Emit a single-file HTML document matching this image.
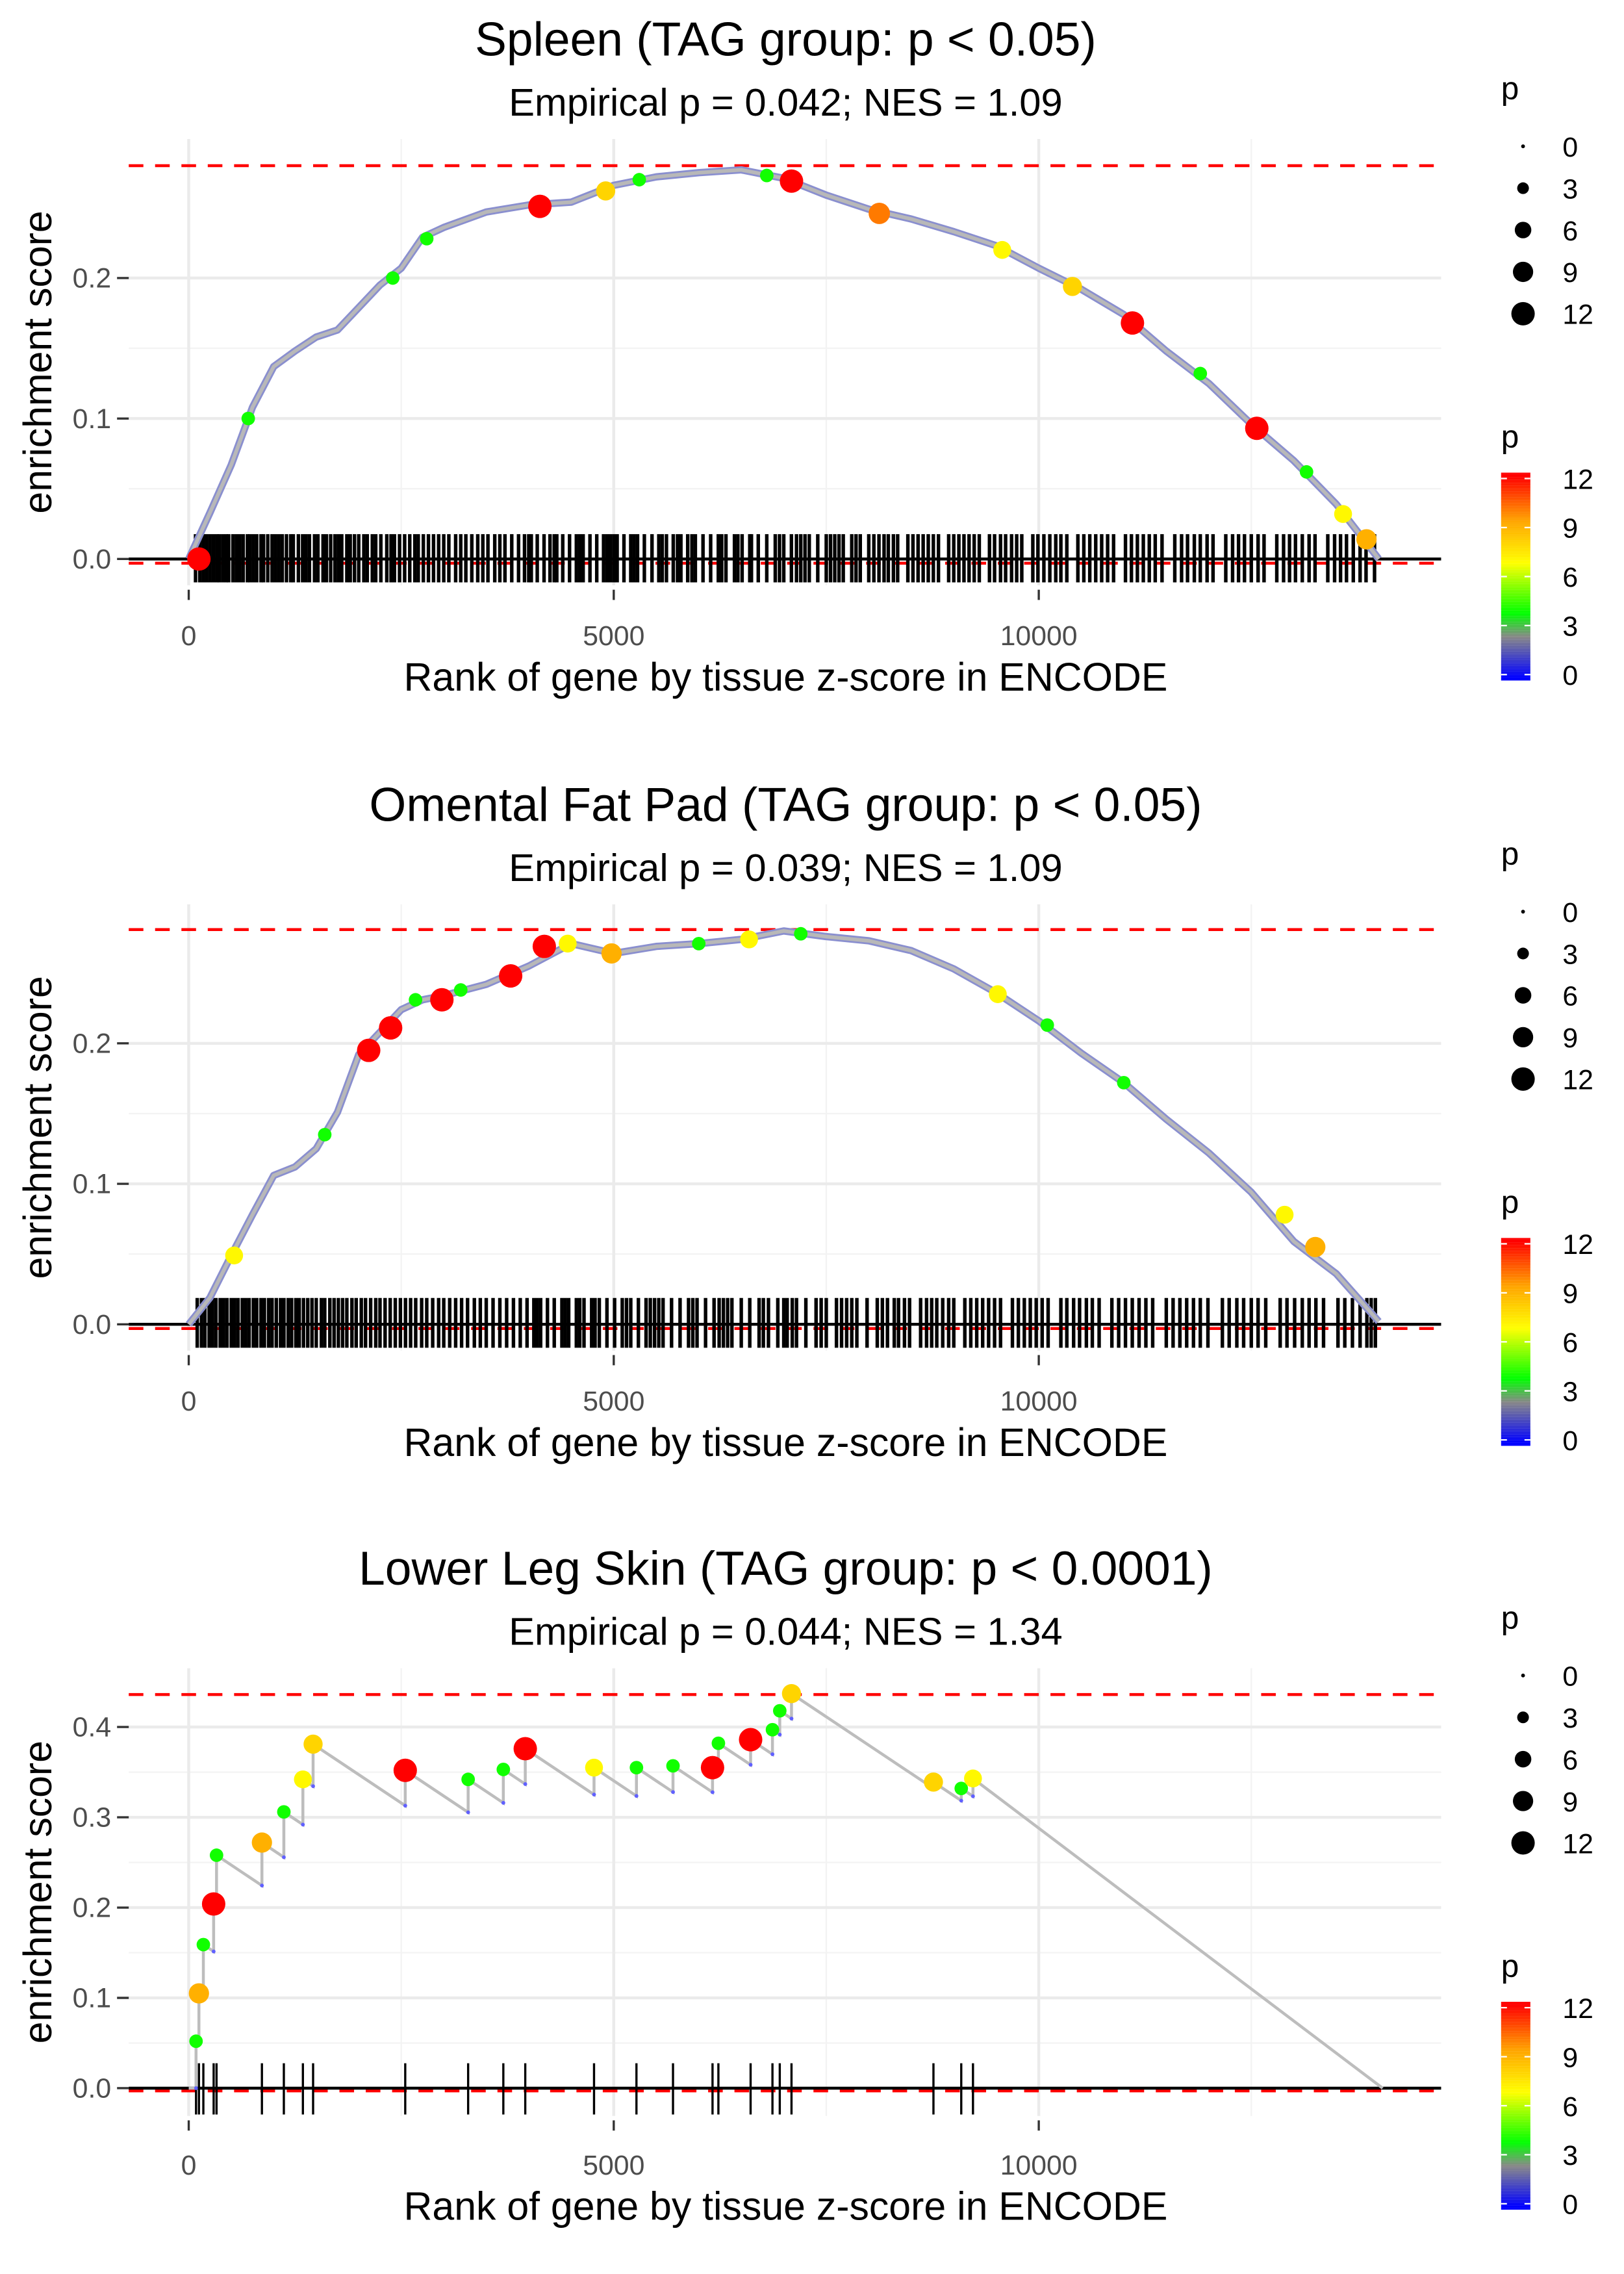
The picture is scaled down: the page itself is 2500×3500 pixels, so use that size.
<!DOCTYPE html>
<html><head><meta charset="utf-8">
<style>
html,body{margin:0;padding:0;background:#fff;}
svg{display:block;font-family:"Liberation Sans",sans-serif;}
</style></head>
<body>
<svg id="chart" width="2500" height="3500" viewBox="0 0 1110 1554" xmlns="http://www.w3.org/2000/svg"></svg>
<script>
// ---------- DATA ----------
const panelTitles = ["Spleen (TAG group: p < 0.05)", "Omental Fat Pad (TAG group: p < 0.05)", "Lower Leg Skin (TAG group: p < 0.0001)"];
const panelSubtitles = ["Empirical p = 0.042; NES = 1.09", "Empirical p = 0.039; NES = 1.09", "Empirical p = 0.044; NES = 1.34"];
const xTicks = [0, 5000, 10000];
const yTicksA = [0, 0.1, 0.2];
const yTicksC = [0, 0.1, 0.2, 0.3, 0.4];
const maxES = [0.280, 0.281, 0.436];
const minES = [-0.003, -0.003, -0.003];
const legendSizes = [0, 3, 6, 9, 12];
const legendColors = [12, 9, 6, 3, 0];

// running curve (rank, ES) for panel 1 and 2
const curveRank = [0,250,500,750,1000,1250,1500,1750,2000,2250,2500,2750,3000,3500,4000,4500,5000,5500,6000,6500,7000,7500,8000,8500,9000,9500,10000,10500,11000,11500,12000,12500,13000,13500,14000];
const curve1ES = [0,0.033,0.067,0.108,0.137,0.148,0.158,0.163,0.179,0.195,0.207,0.229,0.236,0.247,0.252,0.254,0.266,0.272,0.275,0.277,0.271,0.259,0.249,0.242,0.233,0.223,0.207,0.192,0.174,0.148,0.125,0.096,0.070,0.039,0.0];
const curve2ES = [0,0.019,0.049,0.078,0.106,0.112,0.125,0.151,0.192,0.208,0.224,0.231,0.234,0.242,0.255,0.271,0.264,0.269,0.271,0.274,0.280,0.276,0.273,0.266,0.253,0.236,0.216,0.193,0.172,0.146,0.122,0.094,0.059,0.036,0.002];

// highlighted genes
const pts1Rank = [120,4131,4905,7091,8124,9570,10396,11102,12565,13580,13855,700,2400,2800,5300,6800,11900,13150];
const pts1ES   = [0.0,0.251,0.262,0.269,0.246,0.220,0.194,0.168,0.093,0.032,0.014,0.100,0.200,0.228,0.270,0.273,0.132,0.062];
const pts1P    = [12,12,8,12,10,7,8,12,12,7,9,4,4,4,4,4,4,4];
const pts2Rank = [534,2117,2375,2668,2978,3787,4183,4458,4974,6592,9518,12892,13253,1600,3200,6000,7200,10100,11000];
const pts2ES   = [0.049,0.195,0.211,0.231,0.231,0.248,0.269,0.271,0.264,0.274,0.235,0.078,0.055,0.135,0.238,0.271,0.278,0.213,0.172];
const pts2P    = [7,12,12,4,12,12,12,7,9,7,7,7,9,4,4,4,4,4,4];
const pts3Rank = [86,120,172,293,327,861,1119,1343,1463,2547,3287,3701,3959,4768,5267,5697,6162,6231,6610,6867,6953,7091,8761,9088,9226];
const pts3ES   = [0.052,0.105,0.159,0.204,0.258,0.272,0.306,0.342,0.381,0.352,0.342,0.353,0.376,0.355,0.355,0.357,0.355,0.382,0.386,0.397,0.418,0.437,0.339,0.332,0.343];
const pts3P    = [4,9,4,12,4,9,4,7,8,12,4,4,12,7,4,4,12,4,12,4,4,8,8,4,7];
const endRank3 = 14045;

// rug (gene set member ranks)
const rug1 = [80,130,170,210,250,290,330,360,400,440,470,520,560,600,640,690,720,760,800,850,880,930,980,1020,1060,1100,1150,1200,1230,1290,1340,1380,1420,1480,1520,1580,1620,1670,1720,1760,1800,1860,1900,1950,2000,2060,2100,2160,2200,2260,2330,2380,2420,2480,2540,2600,2660,2700,2760,2820,2880,2940,3000,3060,3140,3200,3260,3330,3400,3460,3520,3600,3660,3720,3800,3880,3950,4030,4100,4180,4250,4330,4400,4480,4560,4640,4720,4800,4880,4960,5040,5120,5200,5280,5360,5450,5530,5620,5700,5790,5870,5960,6050,6140,6230,6320,6420,6510,6600,6700,6800,6900,7000,7090,7200,7300,7400,7500,7600,7700,7800,7900,8000,8120,8230,8340,8460,8580,8700,8820,8940,9060,9180,9300,9420,9550,9680,9800,9930,10060,10200,10330,10460,10600,10740,10880,11020,11160,11300,11450,11600,11750,11900,12050,12200,12350,12500,12650,12800,12950,13100,13250,13400,13550,13700,13850,13950,
  4000,4300,4600,4920,5240,5570,5920,6270,6620,6950,7250,7550,7850,8060,8290,8520,8760,9000,9240,9480,9740,9990,10260,10530,10810,11090,11370,11680,11980,12280,12580,12880,13180,13480,13780,5000,5750,6460,7150,7650,8180,8640,9120,9610,10130,10670,11230,11830,12420,13020,13620];
const rug2 = [100,150,190,240,280,320,370,410,450,500,540,580,630,670,710,760,800,850,890,940,980,1030,1080,1120,1170,1210,1260,1300,1350,1400,1450,1500,1560,1600,1660,1710,1760,1810,1860,1920,1970,2030,2080,2140,2200,2250,2310,2370,2430,2490,2550,2610,2670,2740,2800,2870,2940,3000,3070,3140,3210,3280,3360,3430,3500,3580,3660,3740,3820,3900,3980,4060,4140,4220,4300,4390,4470,4560,4650,4740,4830,4920,5010,5100,5200,5290,5380,5480,5580,5680,5780,5880,5980,6080,6180,6290,6390,6500,6600,6710,6820,6930,7040,7150,7260,7380,7500,7620,7740,7860,7980,8100,8220,8350,8480,8610,8740,8870,9000,9130,9270,9410,9550,9690,9830,9970,10110,10260,10410,10560,10710,10860,11020,11180,11340,11500,11660,11820,11990,12160,12330,12500,12670,12840,13010,13180,13350,13520,13690,13860,13960,
  4100,4430,4780,5150,5530,5930,6340,6760,7100,7440,7800,8160,8420,8680,8940,9200,9480,9760,10040,10330,10630,10940,11260,11580,11900,12240,12580,12920,13260,13600,13910,4600,5430,6240,7000,7680,8300,8800,9340,9900,10480,11100,11740,12410,13100,13780];

// ---------- HELPERS ----------
const svg = document.getElementById('chart');
const NS = 'http://www.w3.org/2000/svg';
function mk(tag, attrs, parent){
  const e = document.createElementNS(NS, tag);
  for (const k in attrs) e.setAttribute(k, attrs[k]);
  (parent||svg).appendChild(e);
  return e;
}
const X0 = 129, XPER = 290.5/5000, PL = 88, PR = 985;
function xs(r){ return X0 + r*XPER; }
function colorOf(p){
  const stops=[[0,[0,0,255]],[2.4,[136,136,136]],[3.8,[0,255,0]],[6.8,[255,255,0]],[9.3,[255,165,0]],[12,[255,0,0]]];
  for(let i=1;i<stops.length;i++){
    if(p<=stops[i][0]){
      const a=stops[i-1],b=stops[i],t=(p-a[0])/(b[0]-a[0]);
      const c=a[1].map((v,j)=>Math.round(v+(b[1][j]-v)*t));
      return 'rgb('+c.join(',')+')';
    }
  }
  return 'rgb(255,0,0)';
}
function rOf(p){ return Math.max(1.3, 8*Math.sqrt(p/12)); }

const panels = [
  {dy:0, y0:382, per:960, top:95, bottom:400, yt:yTicksA, rugTop:365, rugBot:398},
  {dy:523, y0:905, per:960, top:618, bottom:923, yt:yTicksA, rugTop:887, rugBot:921},
  {dy:1045, y0:1427, per:617, top:1140, bottom:1446, yt:yTicksC, rugTop:1410, rugBot:1445}
];

panels.forEach((P, i) => {
  const g = mk('g', {});
  
  
  const ys = v => P.y0 - v*P.per;

  let t = mk('text', {x:537, y:38+P.dy, 'font-size':32.5, 'text-anchor':'middle', fill:'#000'}, g);
  t.textContent = panelTitles[i];
  
  
  t = mk('text', {x:537, y:79+P.dy, 'font-size':26.5, 'text-anchor':'middle', fill:'#000'}, g);
  t.textContent = panelSubtitles[i];
  
  

  // grid
  const grid = mk('g', {}, g);
  
  
  [2500, 7500, 12500].forEach(r => mk('line', {x1:xs(r), x2:xs(r), y1:P.top, y2:P.bottom, stroke:'#f3f3f3', 'stroke-width':1}, grid));
  for (let k=0;k<P.yt.length-1;k++){ const v=(P.yt[k]+P.yt[k+1])/2; mk('line',{x1:PL,x2:PR,y1:ys(v),y2:ys(v),stroke:'#f3f3f3','stroke-width':1},grid); }
  xTicks.forEach(r => mk('line', {x1:xs(r), x2:xs(r), y1:P.top, y2:P.bottom, stroke:'#ebebeb', 'stroke-width':2}, grid));
  P.yt.forEach(v => mk('line', {x1:PL, x2:PR, y1:ys(v), y2:ys(v), stroke:'#ebebeb', 'stroke-width':2}, grid));

  // ticks labels
  P.yt.forEach(v => {
    const l = mk('text', {x:76, y:ys(v)+6.5, 'font-size':19, 'text-anchor':'end', fill:'#4d4d4d'}, g);
    l.textContent = v.toFixed(1);
    
    
    mk('line', {x1:80, x2:88, y1:ys(v), y2:ys(v), stroke:'#333', 'stroke-width':1.5}, g);
  });
  xTicks.forEach(r => {
    const l = mk('text', {x:xs(r), y:441+P.dy, 'font-size':19, 'text-anchor':'middle', fill:'#4d4d4d'}, g);
    l.textContent = String(r);
    
    
    mk('line', {x1:xs(r), x2:xs(r), y1:P.bottom+3, y2:P.bottom+10, stroke:'#333', 'stroke-width':1.5}, g);
  });
  t = mk('text', {x:537, y:472+P.dy, 'font-size':27, 'text-anchor':'middle', fill:'#000'}, g);
  t.textContent = 'Rank of gene by tissue z-score in ENCODE';
  
  
  const ym = (P.top+P.bottom)/2;
  t = mk('text', {x:0, y:0, 'font-size':27, 'text-anchor':'middle', fill:'#000', transform:'translate(35,'+ym+') rotate(-90)'}, g);
  t.textContent = 'enrichment score';
  
  

  // dashed lines
  let d = mk('line', {x1:PL, x2:PR, y1:ys(maxES[i]), y2:ys(maxES[i]), stroke:'#ff0000', 'stroke-width':2, 'stroke-dasharray':'10 8'}, g);
  
  
  d = mk('line', {x1:PL, x2:PR, y1:ys(minES[i]), y2:ys(minES[i]), stroke:'#ff0000', 'stroke-width':2, 'stroke-dasharray':'10 8'}, g);
  
  

  // rug
  const rg = mk('g', {}, g);
  
  
  const rugData = i===0 ? rug1 : (i===1 ? rug2 : pts3Rank);
  rugData.forEach(r => mk('line', {x1:xs(r), x2:xs(r), y1:P.rugTop, y2:P.rugBot, stroke:'#000', 'stroke-width': i===2 ? 1.5 : 2.4}, rg));

  // zero line
  d = mk('line', {x1:PL, x2:PR, y1:ys(0), y2:ys(0), stroke:'#000', 'stroke-width':2}, g);
  
  

  // curve
  let pr, pe, pp;
  if (i < 2) {
    const ce = i===0 ? curve1ES : curve2ES;
    const pts = curveRank.map((r,k) => xs(r)+','+ys(ce[k])).join(' ');
    let c = mk('polyline', {points:pts, fill:'none', stroke:'#8a8fcf', 'stroke-width':5, 'stroke-linejoin':'round'}, g);
    
    
    c = mk('polyline', {points:pts, fill:'none', stroke:'#b8b8b8', 'stroke-width':2.5, 'stroke-linejoin':'round'}, g);
    
    
    pr = i===0 ? pts1Rank : pts2Rank; pe = i===0 ? pts1ES : pts2ES; pp = i===0 ? pts1P : pts2P;
  } else {
    pr = pts3Rank; pe = pts3ES; pp = pts3P;
    const maxIdx = pe.indexOf(Math.max(...pe));
    const s = pe[maxIdx] / (endRank3 - pr[maxIdx]);
    let path = 'M'+xs(0)+','+ys(0);
    let prevR = 0, prevE = 0;
    const drops = [];
    pr.forEach((r,k) => {
      const dropE = Math.max(0, prevE - (r - prevR)*s);
      path += ' L'+xs(r)+','+ys(dropE)+' L'+xs(r)+','+ys(pe[k]);
      drops.push([r, dropE]);
      prevR = r; prevE = pe[k];
    });
    path += ' L'+xs(endRank3)+','+ys(0);
    const c = mk('path', {d:path, fill:'none', stroke:'#bdbdbd', 'stroke-width':2}, g);
    
    
    drops.forEach(dp => mk('circle', {cx:xs(dp[0]), cy:ys(dp[1]), r:1.3, fill:'#6060ff'}, g));
  }
  const pg = mk('g', {}, g);
  
  
  pr.forEach((r,k) => {
    const c = mk('circle', {cx:xs(r), cy:ys(pe[k]), r:rOf(pp[k]), fill:colorOf(pp[k])}, pg);
    
    
  });

  // legends
  const lg = mk('g', {}, g);
  
  
  let lt = mk('text', {x:1026, y:68+P.dy, 'font-size':22, fill:'#000'}, lg);
  lt.textContent = 'p';
  legendSizes.forEach((s,k) => {
    const yy = 100 + k*28.6 + P.dy;
    mk('circle', {cx:1041, cy:yy, r:rOf(s), fill:'#000'}, lg);
    const l = mk('text', {x:1068, y:yy+7, 'font-size':19, fill:'#000'}, lg);
    l.textContent = String(s);
    
    
  });
  const cg = mk('g', {}, g);
  
  
  lt = mk('text', {x:1026, y:306+P.dy, 'font-size':22, fill:'#000'}, cg);
  lt.textContent = 'p';
  const barTop = 323+P.dy, barH = 142;
  for (let k=0;k<barH;k++){
    const pv = 12.4*(1-(k+0.5)/barH) - 0.2;
    mk('rect', {x:1026, y:barTop+k, width:20, height:1.05, fill:colorOf(Math.max(0,Math.min(12,pv)))}, cg);
  }
  legendColors.forEach(v => {
    const yy = barTop + 4 + (12 - v)/12*(barH-8);
    mk('line', {x1:1026, x2:1030, y1:yy, y2:yy, stroke:'#fff', 'stroke-width':1}, cg);
    mk('line', {x1:1042, x2:1046, y1:yy, y2:yy, stroke:'#fff', 'stroke-width':1}, cg);
    const l = mk('text', {x:1068, y:yy+7, 'font-size':19, fill:'#000'}, cg);
    l.textContent = String(v);
    
    
  });
});
</script>
</body></html>
